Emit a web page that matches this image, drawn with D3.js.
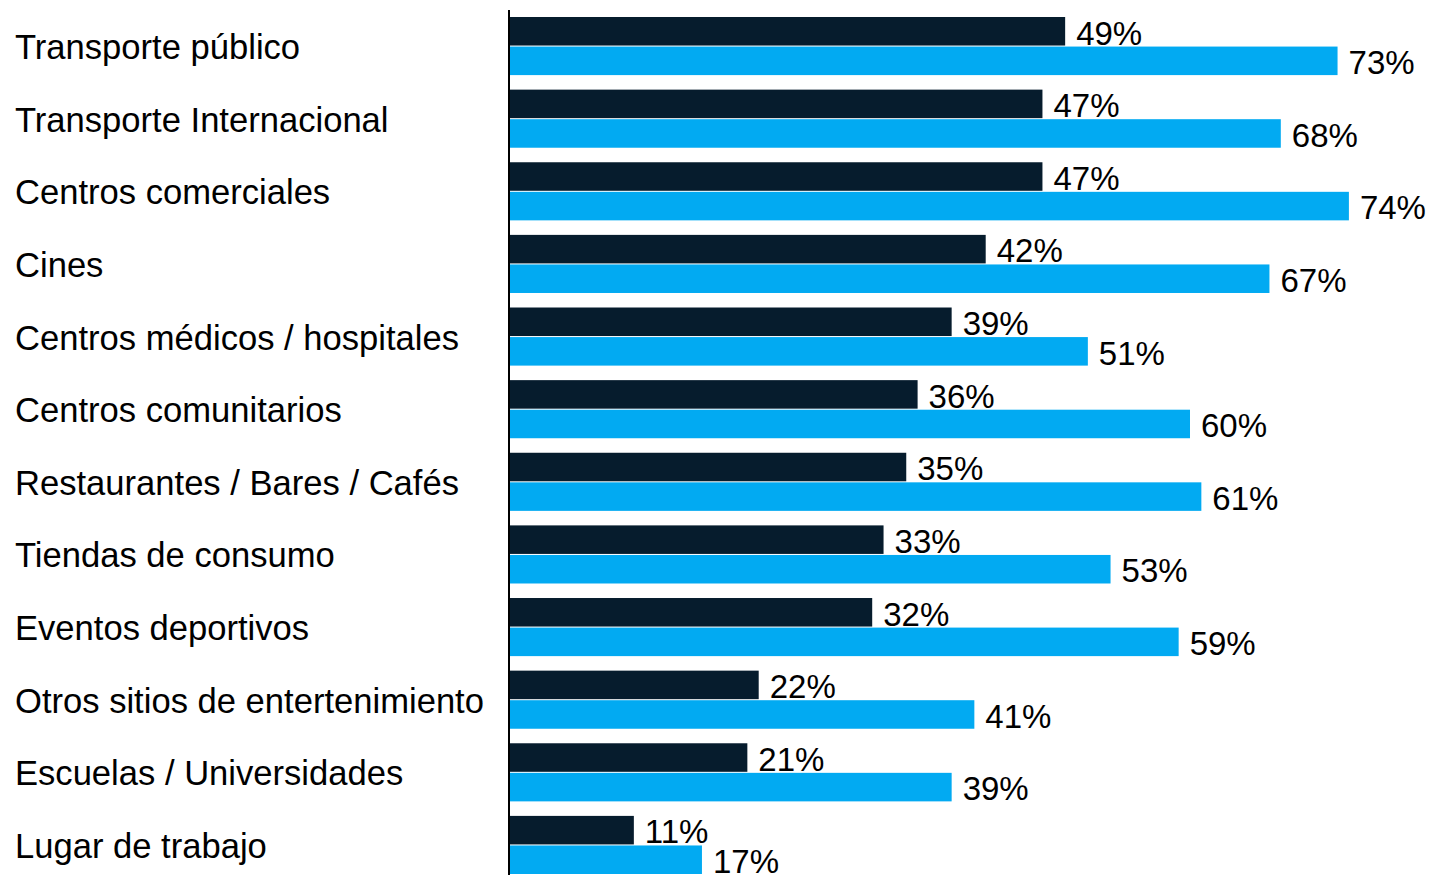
<!DOCTYPE html>
<html>
<head>
<meta charset="utf-8">
<script src="https://cdn.jsdelivr.net/npm/d3@7"></script>
<style>
  html, body { margin: 0; padding: 0; background: #fff; }
  svg { display: block; }
  text { font-family: "Liberation Sans", Arial, sans-serif; fill: #000; }
</style>
</head>
<body>
<svg id="chart" width="1434" height="875"></svg>
<script>
const categories = [
  "Transporte público",
  "Transporte Internacional",
  "Centros comerciales",
  "Cines",
  "Centros médicos / hospitales",
  "Centros comunitarios",
  "Restaurantes / Bares / Cafés",
  "Tiendas de consumo",
  "Eventos deportivos",
  "Otros sitios de entertenimiento",
  "Escuelas / Universidades",
  "Lugar de trabajo"
];
const seriesDark = [49, 47, 47, 42, 39, 36, 35, 33, 32, 22, 21, 11];
const seriesBlue = [73, 68, 74, 67, 51, 60, 61, 53, 59, 41, 39, 17];
const seriesKeys = ["dark", "blue"];
const seriesColors = { dark: "#061c2d", blue: "#02aaf2" };

const rows = categories.map((c, i) => ({ cat: c, dark: seriesDark[i], blue: seriesBlue[i] }));

const svg = d3.select("#chart");
const axisX = 509;

const x = d3.scaleLinear().domain([0, 100]).range([axisX, axisX + 1135]);
const y = d3.scaleBand().domain(categories).range([17, 874]).paddingInner(0.2).paddingOuter(0);
const ySub = d3.scaleBand().domain(seriesKeys).range([0, y.bandwidth()]).paddingInner(0.035);

const groups = svg.selectAll("g.row").data(rows).join("g")
  .attr("class", "row")
  .attr("transform", d => `translate(0,${y(d.cat)})`);

groups.selectAll("rect").data(d => seriesKeys.map(k => ({ k, v: d[k] }))).join("rect")
  .attr("x", x(0))
  .attr("y", d => ySub(d.k))
  .attr("width", d => x(d.v) - x(0))
  .attr("height", ySub.bandwidth())
  .attr("fill", d => seriesColors[d.k]);

groups.selectAll("text.val").data(d => seriesKeys.map(k => ({ k, v: d[k] }))).join("text")
  .attr("class", "val")
  .attr("x", d => x(d.v) + 11)
  .attr("y", d => ySub(d.k) + ySub.bandwidth() - 1)
  .attr("font-size", 33)
  .text(d => d.v + "%");

groups.append("text")
  .attr("class", "cat")
  .attr("x", 15)
  .attr("y", y.bandwidth() / 2 + 13)
  .attr("font-size", 34.6)
  .text(d => d.cat);

// vertical baseline of the bars
svg.append("line")
  .attr("x1", axisX).attr("x2", axisX)
  .attr("y1", 10).attr("y2", 875)
  .attr("stroke", "#000").attr("stroke-width", 2);
</script>
</body>
</html>
